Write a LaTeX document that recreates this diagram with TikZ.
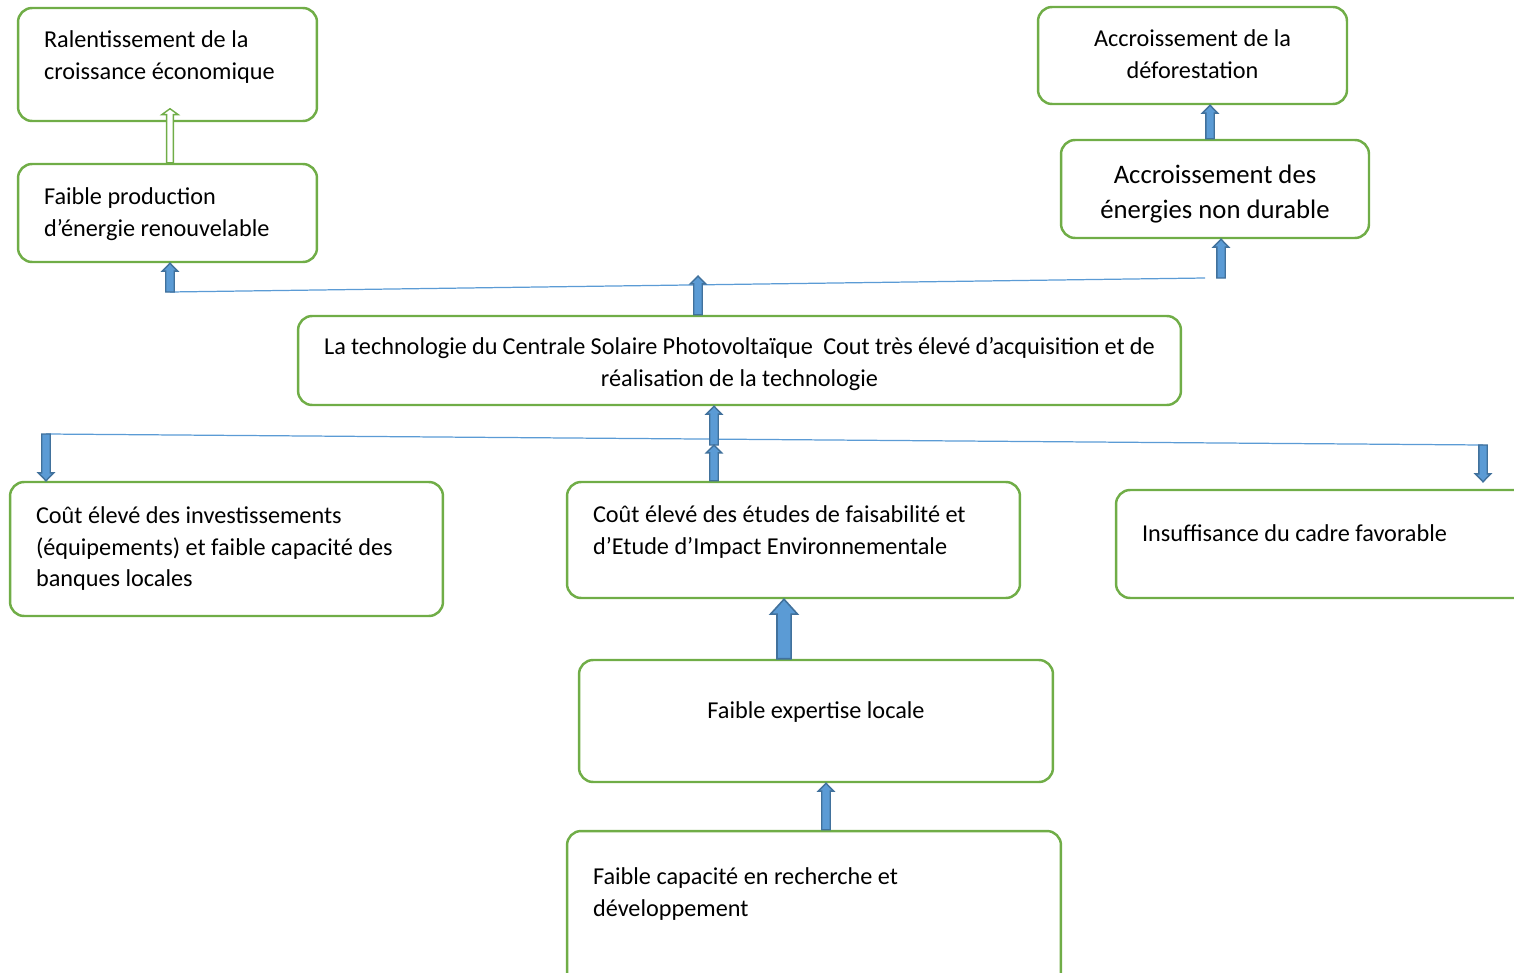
\documentclass[tikz,border=0pt]{standalone}
\usepackage{fontspec}
\setmainfont{Carlito}
\usetikzlibrary{calc}
\definecolor{arbreGreen}{RGB}{112,173,71}
\definecolor{arbreBlue}{RGB}{91,155,213}
\definecolor{arbreEdge}{RGB}{65,113,156}
% text block of a box: [top skip]{width}{height}{alignment}{text}
\newcommand{\cellbox}[5][0.36cm]{\parbox[c][#3][t]{#2}{#4\vspace*{#1}\strut#5}}

\begin{document}
\begin{tikzpicture}[
      x=0.02cm, y=-0.02cm,
      cell/.style={draw=arbreGreen, line width=1.4pt, rounded corners=8pt, inner xsep=0.52cm, inner ysep=0pt,
        font=\fontsize{13.8}{18.1}\selectfont},
      link/.style={draw=arbreBlue, line width=0.7pt},
      fat/.style args={#1/#2/#3}{to path={let \p1=(\tikztostart), \p2=(\tikztotarget), \n1={sign(\y2-\y1)} in
        (\x1-#1,\y1) -- (\x1-#1,\y2-\n1*#3) -- (\x1-#2,\y2-\n1*#3) -- (\x1,\y2)
        -- (\x1+#2,\y2-\n1*#3) -- (\x1+#1,\y2-\n1*#3) -- (\x1+#1,\y1) -- cycle}},
      arrow/.style={fill=arbreBlue, draw=arbreEdge, line width=0.8pt, fat=2.4pt/4.4pt/4.5pt},
      bigarrow/.style={fill=arbreBlue, draw=arbreEdge, line width=0.9pt, fat=4pt/7.7pt/8.5pt},
      hollow/.style={fill=white, draw=arbreGreen, line width=0.8pt, fat=1.9pt/4.7pt/3.4pt}
    ]
    \useasboundingbox (0,0) rectangle (1514,973);

    % effects
    \node[cell] (ralent) at (167.5,64.5) {\cellbox[0.35cm]{4.94cm}{2.26cm}{\raggedright}{Ralentissement de la\\croissance économique}};
    \node[cell] (prod) at (167.5,213) {\cellbox{4.94cm}{1.96cm}{\raggedright}{Faible production\\d’énergie renouvelable}};
    \node[cell] (defor) at (1192.5,55.5) {\cellbox[0.35cm]{5.14cm}{1.94cm}{\centering}{Accroissement de la\\déforestation}};
    \node[cell, font=\fontsize{15.2}{20.2}\selectfont] (energ) at (1215,189) {\cellbox[0.37cm]{5.12cm}{1.96cm}{\centering}{Accroissement des\\énergies non durable}};

    % central problem
    \node[cell] (techno) at (739.5,360.5) {\cellbox[0.33cm]{16.62cm}{1.78cm}{\centering}{La technologie du Centrale Solaire Photovoltaïque\ \ Cout très élevé d’acquisition et de\\réalisation de la technologie}};

    % causes
    \node[cell] (invest) at (226.5,549) {\cellbox[0.38cm]{7.62cm}{2.68cm}{\raggedright}{Coût élevé des investissements\\(équipements) et faible capacité des\\banques locales}};
    \node[cell] (etudes) at (793.5,540) {\cellbox{8.02cm}{2.32cm}{\raggedright}{Coût élevé des études de faisabilité et\\d’Etude d’Impact Environnementale}};
    \node[cell] (cadre) at (1330.5,544) {\cellbox[0.59cm]{7.54cm}{2.16cm}{\raggedright}{Insuffisance du cadre favorable}};
    \node[cell] (expert) at (816,721) {\cellbox[0.73cm]{8.44cm}{2.44cm}{\centering}{Faible expertise locale}};
    \node[cell] (capac) at (814,920.5) {\cellbox[0.63cm]{8.84cm}{3.58cm}{\raggedright}{Faible capacité en recherche et\\développement}};

    % upper links
    \coordinate (hautG) at (170,292);
    \coordinate (hautM) at (698,285);
    \coordinate (hautD) at (1205,278);
    \coordinate (hautA) at (1221,278);
    \draw[link] (hautG) -- (hautD);
    \draw[arrow] (hautG) to (prod.south -| hautG);
    \draw[arrow] (techno.north -| hautM) to ([yshift=0.18cm]hautM);
    \draw[arrow] (hautA) to (energ.south -| hautA);
    \coordinate (e1) at ([xshift=-0.1cm]energ.north);
    \draw[arrow] (e1) to (e1 |- defor.south);
    \draw[hollow] (prod.north -| hautG) to ([yshift=0.27cm]ralent.south -| hautG);

    % lower links
    \coordinate (basG) at (46,434);
    \coordinate (basD) at (1483,445);
    \coordinate (milieu) at (714,445);
    \draw[link] (basG) -- (basD);
    \draw[arrow] (basG) to (invest.north -| basG);
    \draw[arrow] (basD) to ([yshift=0.14cm]cadre.north -| basD);
    \draw[arrow] (milieu) to (techno.south -| milieu);
    \draw[arrow] (etudes.north -| milieu) to (milieu);
    \coordinate (e2) at ([xshift=-0.64cm]expert.north);
    \draw[bigarrow] (e2) to (e2 |- etudes.south);
    \coordinate (e3) at ([xshift=0.24cm]capac.north);
    \draw[arrow] (e3) to (e3 |- expert.south);
  \end{tikzpicture}
\end{document}
